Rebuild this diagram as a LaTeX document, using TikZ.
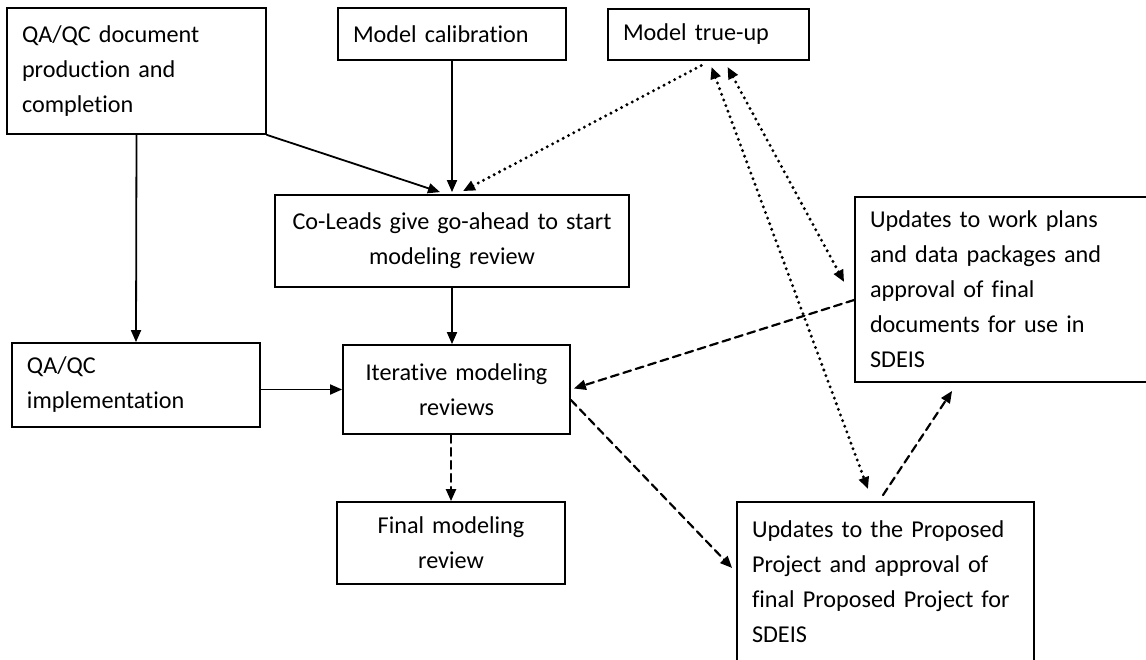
\documentclass[tikz,border=0pt]{standalone}
\usepackage{fontspec}
\setmainfont{Carlito}[Ligatures=NoCommon]
\usetikzlibrary{calc,arrows.meta}

\begin{document}
\begin{tikzpicture}[x=1pt,y=-1pt,line cap=round,
    box/.style={draw,line width=1.8pt,inner xsep=15pt,inner ysep=0pt,align=left,
        font=\fontsize{24.2}{35}\selectfont},
    tip/.style={-{Triangle[length=12pt,width=10pt]}},
    arr/.style={tip,line width=1.8pt},
    dotline/.style={line width=3.3pt,dash pattern=on 0pt off 6pt},
    dashline/.style={line width=2.2pt,dash pattern=on 8pt off 5pt}]
    \useasboundingbox (0,0) rectangle (1146,659);
    \clip (0,0) rectangle (1146,659);
    % boxes, at their centres
    \node[box,text width=229pt,minimum height=126pt] (qadoc) at (136.5,71) {QA/QC document\\production and\\completion};
    \node[box,text width=198pt,minimum height=52pt] (calib) at (452,34) {Model calibration};
    \node[box,text width=171pt,minimum height=51pt] (trueup) at (708.5,34.5) {Model true-up};
    \node[box,align=center,text width=324pt,minimum height=92pt] (colead) at (452,241) {Co-Leads give go-ahead to start\\modeling review};
    \node[box,text width=280pt,minimum height=185pt] (workplans) at (1010,289.5) {Updates to work plans\\and data packages and\\approval of final\\documents for use in\\SDEIS};
    \node[box,text width=218pt,minimum height=84pt] (qaimpl) at (136,385) {QA/QC\\implementation};
    \node[box,align=center,text width=197pt,minimum height=89pt] (iter) at (456.5,389.5) {Iterative modeling\\reviews};
    \node[box,align=center,text width=198pt,minimum height=82pt] (final) at (451,543) {Final modeling\\review};
    \node[box,text width=267pt,minimum height=160pt] (proposed) at (885.5,582) {Updates to the Proposed\\Project and approval of\\final Proposed Project for\\SDEIS};
    % solid flow
    \draw[arr] (qadoc.south) -- (qaimpl.north);
    \draw[arr] (qadoc.south east) -- ($(colead.north)+(-12,-2)$);
    \draw[arr] (calib.south) -- ($(colead.north)+(0,-2)$);
    \draw[arr] (colead.south) -- (colead.south |- iter.north);
    \draw[arr] (qaimpl.east |- iter.west) -- (iter.west);
    % true-up links
    \draw[dotline,{Triangle[length=12pt,width=10pt]}-] ($(colead.north)+(11,-3)$) -- ($(trueup.south)+(-6,4)$);
    \draw[dotline,{Triangle[length=12pt,width=10pt]}-{Triangle[length=12pt,width=10pt]}] ($(trueup.south)+(3,6)$) -- ($(proposed.north)+(-17.5,-12)$);
    \draw[dotline,{Triangle[length=12pt,width=10pt]}-{Triangle[length=12pt,width=10pt]}] ($(trueup.south)+(19,6)$) -- ($(workplans.west)+(-10,-7.5)$);
    % updates
    \draw[dashline,tip] ($(workplans.west)+(0,10.5)$) -- ($(iter.east)+(3,-1)$);
    \draw[dashline,tip] ($(iter.east)+(0,10.5)$) -- ($(proposed.west)+(-4,-14)$);
    \draw[dashline,tip] ($(proposed.north)+(-2.5,-6)$) -- ($(workplans.south west)+(98,8)$);
    \draw[dashline,tip] (final.north |- iter.south) -- (final.north);
\end{tikzpicture}
\end{document}
